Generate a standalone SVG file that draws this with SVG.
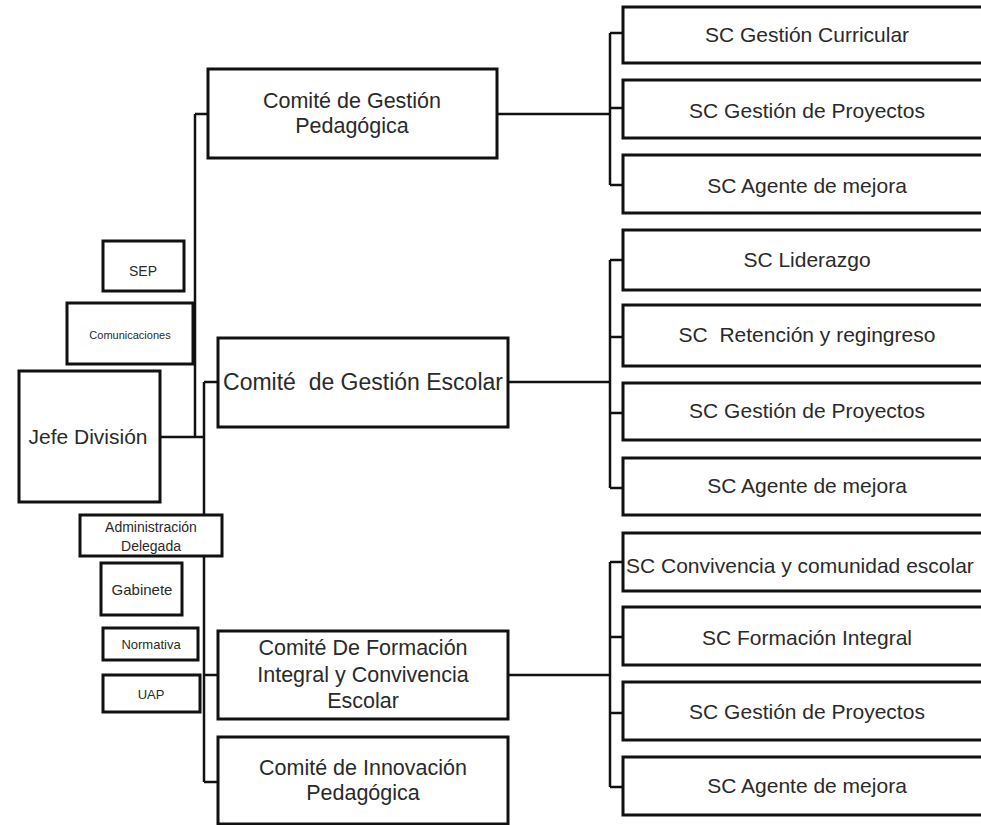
<svg xmlns="http://www.w3.org/2000/svg" width="981" height="825" viewBox="0 0 981 825">
<style>
rect{fill:#fff;stroke:#111;stroke-width:3}
.c{fill:none;stroke:#111;stroke-width:2.5}
text{font-family:"Liberation Sans",Arial,sans-serif;fill:#2a2a2a;text-anchor:middle}
.sc{font-size:21px}
.cm{font-size:21.5px}
</style>
<rect x="0" y="0" width="981" height="825" style="fill:#fff;stroke:none"/>
<g id="connectors">
<path class="c" d="M195,114V437M160,437H204M204,382V782M195,114H208M204,382H218M204,675H218M204,782H218"/>
<path class="c" d="M497,114H610M610,33V185M610,33H623M610,108H623M610,185H623"/>
<path class="c" d="M508,382H610M610,260V488M610,260H623M610,337H623M610,413H623M610,488H623"/>
<path class="c" d="M508,675H610M610,562V787M610,562H623M610,637H623M610,713H623M610,787H623"/>
</g>
<g id="sep"><rect x="103" y="241" width="81" height="50"/><text x="143" y="276" style="font-size:14px">SEP</text></g>
<g id="comunicaciones"><rect x="67" y="303" width="126" height="61"/><text x="130" y="339" style="font-size:11px">Comunicaciones</text></g>
<g id="jefe"><rect x="19" y="371" width="141" height="131"/><text x="88" y="444" style="font-size:21px">Jefe División</text></g>
<g id="admin"><rect x="80" y="515" width="142" height="41"/><text x="151" y="532" style="font-size:14px">Administración</text><text x="151" y="551" style="font-size:14px">Delegada</text></g>
<g id="gabinete"><rect x="101" y="563" width="81" height="52"/><text x="142" y="595" style="font-size:15px">Gabinete</text></g>
<g id="normativa"><rect x="103" y="628" width="95" height="32"/><text x="151" y="649" style="font-size:13px">Normativa</text></g>
<g id="uap"><rect x="103" y="675" width="97" height="37"/><text x="151" y="699" style="font-size:13px">UAP</text></g>
<g id="c_ped"><rect x="208" y="69" width="289" height="89"/><text class="cm" x="352" y="108">Comité de Gestión</text><text class="cm" x="352" y="133">Pedagógica</text></g>
<g id="c_esc"><rect x="218" y="338" width="290" height="89"/><text class="cm" x="363" y="390" style="font-size:23px" xml:space="preserve">Comité  de Gestión Escolar</text></g>
<g id="c_form"><rect x="218" y="631" width="290" height="88"/><text class="cm" x="363" y="655">Comité De Formación</text><text class="cm" x="363" y="682">Integral y Convivencia</text><text class="cm" x="363" y="708">Escolar</text></g>
<g id="c_inn"><rect x="218" y="737" width="290" height="87"/><text class="cm" x="363" y="775">Comité de Innovación</text><text class="cm" x="363" y="800">Pedagógica</text></g>
<g id="sc1"><rect x="623" y="7" width="372" height="56"/><text class="sc" x="807" y="42">SC Gestión Curricular</text></g>
<g id="sc2"><rect x="623" y="80" width="372" height="58"/><text class="sc" x="807" y="118">SC Gestión de Proyectos</text></g>
<g id="sc3"><rect x="623" y="155" width="372" height="58"/><text class="sc" x="807" y="193">SC Agente de mejora</text></g>
<g id="sc4"><rect x="623" y="230" width="372" height="60"/><text class="sc" x="807" y="267">SC Liderazgo</text></g>
<g id="sc5"><rect x="623" y="305" width="372" height="61"/><text class="sc" x="807" y="342" xml:space="preserve">SC  Retención y regingreso</text></g>
<g id="sc6"><rect x="623" y="383" width="372" height="57"/><text class="sc" x="807" y="418">SC Gestión de Proyectos</text></g>
<g id="sc7"><rect x="623" y="458" width="372" height="57"/><text class="sc" x="807" y="493">SC Agente de mejora</text></g>
<g id="sc8"><rect x="623" y="533" width="372" height="58"/><text class="sc" x="626" y="573" style="text-anchor:start">SC Convivencia y comunidad escolar</text></g>
<g id="sc9"><rect x="623" y="607" width="372" height="58"/><text class="sc" x="807" y="645">SC Formación Integral</text></g>
<g id="sc10"><rect x="623" y="682" width="372" height="58"/><text class="sc" x="807" y="719">SC Gestión de Proyectos</text></g>
<g id="sc11"><rect x="623" y="757" width="372" height="58"/><text class="sc" x="807" y="793">SC Agente de mejora</text></g>
</svg>
